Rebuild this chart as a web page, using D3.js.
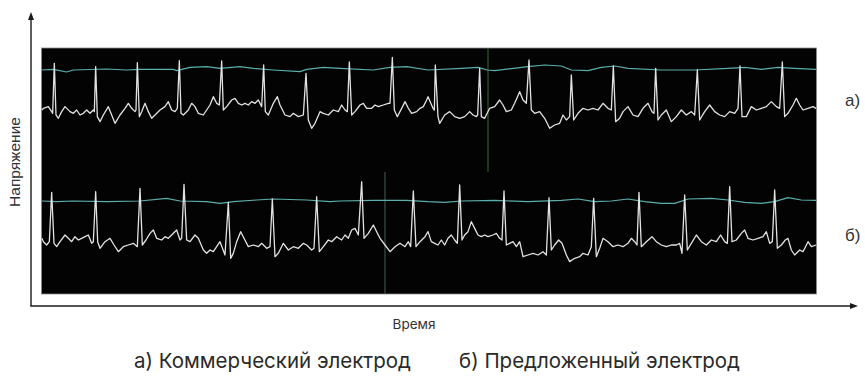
<!DOCTYPE html>
<html><head><meta charset="utf-8">
<script src="https://cdn.jsdelivr.net/npm/d3@7"></script>
<style>html,body{margin:0;padding:0;background:#fff;}svg{display:block;}</style>
</head><body>
<div id="chart"></div>
<script>
// ---- data (time in samples, voltage in mV) ----
const timeDomain = [6, 2328];
const ecgA = [[6,0.10],[10,0.15],[25,0.20],[35,0.05],[38,0.00],[43,1.50],[48,-0.05],[55,-0.15],[65,0.05],[75,0.20],[90,0.05],[100,0.00],[110,0.10],[120,-0.05],[130,0.00],[140,0.10],[150,0.00],[160,0.10],[163,0.05],[167,1.40],[172,-0.10],[180,-0.25],[190,-0.05],[205,0.20],[215,-0.05],[225,-0.30],[240,-0.05],[255,0.15],[265,0.30],[275,0.15],[285,0.05],[288,0.10],[292,1.52],[298,-0.10],[305,0.05],[315,0.30],[325,0.05],[335,-0.15],[345,-0.05],[360,0.10],[375,0.20],[385,0.35],[395,0.10],[405,0.05],[412,0.15],[418,1.58],[423,0.00],[430,-0.05],[445,0.10],[455,0.30],[465,0.20],[475,0.00],[490,-0.05],[500,0.10],[510,0.25],[520,0.50],[530,0.30],[538,0.25],[545,1.57],[550,0.10],[560,0.20],[575,0.40],[585,0.45],[595,0.30],[605,0.25],[615,0.30],[625,0.25],[635,0.35],[645,0.30],[655,0.40],[665,0.20],[671,1.45],[676,0.05],[685,-0.05],[700,0.30],[712,0.50],[720,0.25],[735,-0.05],[750,-0.10],[760,0.00],[775,-0.10],[790,-0.05],[798,1.20],[805,-0.20],[815,-0.45],[825,-0.30],[840,0.05],[850,0.00],[865,-0.05],[880,0.10],[895,0.05],[905,0.25],[915,0.10],[922,0.05],[928,1.54],[935,-0.05],[945,0.05],[960,0.25],[970,0.30],[980,0.15],[995,0.15],[1005,0.25],[1015,0.20],[1030,0.25],[1045,0.30],[1050,0.30],[1057,1.68],[1063,0.10],[1072,-0.10],[1085,0.15],[1095,0.35],[1105,0.15],[1115,0.00],[1130,0.05],[1140,0.15],[1150,0.20],[1160,0.40],
[1164,0.50],[1179,0.15],[1183,0.10],[1186,1.45],[1194,-0.10],[1199,-0.30],[1214,-0.05],[1229,0.05],[1244,-0.10],[1259,-0.15],[1274,-0.10],[1289,0.05],[1299,-0.05],[1309,-0.10],[1313,-0.05],[1319,1.35],[1324,-0.10],[1334,-0.15],[1349,0.15],[1364,0.20],[1379,0.40],[1389,0.25],[1399,0.05],[1414,0.10],[1424,0.30],[1439,0.65],[1449,0.40],[1459,0.30],[1467,1.60],[1474,0.10],[1484,0.00],[1499,0.05],[1514,-0.15],[1529,-0.45],[1544,-0.35],[1559,-0.30],[1569,-0.05],[1579,-0.20],[1589,-0.10],[1594,1.15],[1601,-0.20],[1614,0.00],[1629,0.15],[1644,0.10],[1659,0.15],[1674,0.10],[1689,0.30],[1704,0.15],[1714,0.10],[1720,1.42],[1727,-0.25],[1739,-0.15],[1749,0.05],[1764,0.20],[1779,-0.05],[1794,-0.10],[1809,0.15],[1824,0.30],[1836,0.05],[1842,0.00],[1847,1.35],[1854,-0.20],[1864,-0.05],[1879,0.10],[1894,-0.25],[1909,-0.10],[1924,0.10],[1939,-0.05],[1954,0.05],[1964,-0.05],[1972,1.30],[1979,-0.20],[1994,0.05],[2009,0.25],[2024,0.05],[2039,-0.05],[2054,-0.10],[2069,0.05],[2084,0.00],[2094,0.15],[2100,1.42],[2106,-0.10],[2119,-0.10],[2134,0.20],[2149,0.10],[2164,0.15],[2179,0.20],[2194,0.35],[2209,0.20],[2219,0.15],[2227,1.54],[2234,-0.10],[2244,0.00],[2259,0.25],[2269,0.45],[2279,0.25],[2289,0.10],[2304,0.15],[2319,0.20],[2328,0.15]];

const pulseA = [[6,1.30],[40,1.32],[80,1.24],[100,1.30],[200,1.33],[260,1.30],[300,1.32],[400,1.32],[410,1.28],[450,1.38],[500,1.40],[540,1.35],[600,1.40],[640,1.35],[700,1.30],[780,1.25],[800,1.32],[850,1.38],[900,1.35],[1000,1.30],[1050,1.38],[1100,1.40],[1164,1.30],[1264,1.35],[1314,1.38],[1342,1.30],[1364,1.28],[1414,1.34],[1464,1.40],[1514,1.45],[1564,1.42],[1594,1.30],[1644,1.28],[1684,1.38],[1724,1.42],[1764,1.35],[1864,1.30],[1964,1.30],[2064,1.35],[2114,1.38],[2164,1.32],[2214,1.38],[2264,1.35],[2328,1.32]];
const flatA = [[6,-1.16],[2328,-1.16]];

const ecgB = [[6,0.20],[10,0.10],[20,0.00],[28,0.10],[35,1.58],[42,0.05],[50,-0.05],[60,0.10],[75,0.30],[85,0.20],[95,0.10],[105,0.25],[115,0.15],[125,0.20],[135,0.25],[145,0.30],[155,0.05],[160,0.10],[167,1.60],[173,0.10],[180,-0.10],[195,0.10],[210,0.20],[222,0.00],[235,-0.20],[250,-0.05],[265,0.00],[280,0.05],[292,-0.05],[300,1.70],[307,0.00],[318,0.15],[330,0.35],[340,0.45],[350,0.20],[365,0.15],[375,0.25],[385,0.20],[395,0.30],[410,0.45],[420,0.15],[425,0.20],[432,1.82],[440,0.15],[450,0.10],[465,0.30],[475,0.20],[490,-0.15],[500,-0.25],[510,-0.15],[520,-0.20],[530,-0.05],[540,0.10],[555,-0.30],[565,1.28],[572,-0.40],[580,-0.25],[590,0.10],[602,0.40],[612,0.20],[625,-0.05],[640,0.00],[655,-0.05],[665,0.05],[680,-0.10],[690,-0.05],[697,1.38],[705,-0.35],[715,-0.25],[730,0.05],[745,-0.15],[760,-0.05],[775,-0.10],[790,0.05],[800,0.00],[815,-0.15],[822,-0.10],[830,1.45],[838,-0.20],[850,-0.05],[865,0.15],[875,0.10],[890,0.25],[905,0.15],[915,0.30],[925,0.20],[935,0.45],[945,0.50],[955,0.30],[965,1.90],[972,0.20],[985,0.35],[1000,0.60],[1010,0.40],[1020,0.20],[1035,0.00],[1050,-0.20],[1065,-0.05],[1080,0.05],[1095,-0.05],[1105,0.10],[1112,-0.05],[1120,1.62],[1128,-0.05],[1140,0.10],[1155,0.25],
[1164,0.40],[1174,0.10],[1184,0.05],[1194,0.00],[1204,0.15],[1214,0.00],[1224,0.20],[1234,0.30],[1244,0.15],[1252,0.05],[1259,1.80],[1266,0.15],[1274,0.30],[1284,0.40],[1294,0.70],[1304,0.50],[1314,0.30],[1324,0.25],[1334,0.30],[1344,0.25],[1359,0.30],[1369,0.35],[1379,0.20],[1386,0.15],[1392,1.62],[1399,0.00],[1409,0.05],[1419,0.10],[1429,-0.05],[1439,0.10],[1449,-0.35],[1464,-0.30],[1479,-0.25],[1494,-0.30],[1509,-0.20],[1519,-0.30],[1527,1.42],[1534,-0.15],[1544,0.00],[1556,0.15],[1566,0.05],[1579,-0.30],[1589,-0.50],[1604,-0.40],[1619,-0.35],[1629,-0.25],[1644,-0.30],[1654,-0.05],[1661,1.40],[1669,-0.35],[1679,-0.10],[1689,0.20],[1704,0.10],[1719,-0.05],[1734,0.00],[1749,-0.05],[1764,0.05],[1774,0.20],[1784,0.10],[1791,0.00],[1797,1.58],[1804,-0.05],[1819,0.10],[1836,0.25],[1849,0.10],[1864,0.00],[1879,-0.05],[1894,0.00],[1909,0.00],[1919,0.05],[1926,-0.25],[1934,1.50],[1942,-0.15],[1954,0.05],[1969,0.30],[1984,0.10],[1999,0.00],[2014,0.15],[2029,0.10],[2042,0.30],[2054,0.10],[2062,0.05],[2069,1.75],[2076,0.10],[2089,0.15],[2104,0.35],[2114,0.45],[2124,0.20],[2139,0.15],[2154,0.20],[2169,0.25],[2179,0.40],[2189,0.05],[2197,0.10],[2204,1.65],[2212,-0.10],[2224,0.00],[2236,0.15],[2244,0.20],[2254,-0.15],[2264,-0.30],[2279,-0.15],[2289,-0.20],[2304,0.10],[2314,-0.05],[2328,0.00]];

const pulseB = [[6,1.32],[50,1.30],[100,1.32],[200,1.30],[300,1.32],[380,1.40],[420,1.32],[500,1.30],[540,1.25],[580,1.30],[650,1.35],[700,1.38],[800,1.35],[870,1.30],[900,1.32],[1000,1.34],[1100,1.34],[1164,1.30],[1214,1.28],[1264,1.32],[1364,1.34],[1464,1.30],[1564,1.34],[1614,1.38],[1664,1.30],[1714,1.32],[1764,1.38],[1814,1.30],[1864,1.25],[1904,1.25],[1944,1.38],[2014,1.40],[2064,1.35],[2114,1.28],[2164,1.25],[2204,1.30],[2244,1.42],[2284,1.35],[2328,1.34]];
const flatB = [[6,-1.17],[2328,-1.17]];

const cursorA = [1344];
const cursorB = [1035];
const panelLabels = ["а)", "б)"];
const legendLabels = ["а) Коммерческий электрод", "б) Предложенный электрод"];
const yTitle = "Напряжение";
const xTitle = "Время";

// ---- drawing ----
const W = 865, H = 376;
const svg = d3.select("#chart").append("svg").attr("width", W).attr("height", H);
svg.append("rect").attr("width", W).attr("height", H).attr("fill", "#fff");

const x = d3.scaleLinear().domain(timeDomain).range([42, 816]);
const yA = d3.scaleLinear().domain([0, 1]).range([113.33, 80]);
const yB = d3.scaleLinear().domain([0, 1]).range([245, 211.67]);
const panelTop = 48, panelBottom = 294, split = 172;

// monitor panel
svg.append("rect").attr("x", x.range()[0] - 0.5).attr("y", panelTop)
  .attr("width", x.range()[1] - x.range()[0] + 1).attr("height", panelBottom - panelTop)
  .attr("fill", "#030303").attr("stroke", "#8a8a8a").attr("stroke-width", 0.8);

const blur = svg.append("defs").append("filter").attr("id", "soft");
blur.append("feGaussianBlur").attr("stdDeviation", 0.3);

// cursor lines
svg.selectAll(".curA").data(cursorA).join("line")
  .attr("x1", d => x(d)).attr("x2", d => x(d)).attr("y1", panelTop).attr("y2", split)
  .attr("stroke", "#2b5a2b").attr("stroke-width", 1.2);
svg.selectAll(".curB").data(cursorB).join("line")
  .attr("x1", d => x(d)).attr("x2", d => x(d)).attr("y1", split).attr("y2", panelBottom)
  .attr("stroke", "#3f5244").attr("stroke-width", 1.2);

function trace(data, yS, color, width) {
  const line = d3.line().x(d => x(d[0])).y(d => yS(d[1]));
  svg.append("path").datum(data).attr("d", line).attr("fill", "none")
    .attr("stroke", color).attr("stroke-width", width)
    .attr("stroke-linejoin", "round").attr("filter", "url(#soft)");
}
trace(flatA, yA, "#2e8482", 2.2);
trace(flatB, yB, "#2e8482", 2.2);
trace(pulseA, yA, "#5aaeab", 1.2);
trace(pulseB, yB, "#5aaeab", 1.2);
trace(ecgA, yA, "#e2e2e2", 1.3);
trace(ecgB, yB, "#e2e2e2", 1.3);

// axes with arrows
const axisColor = "#1a1a1a";
svg.append("line").attr("x1", 31).attr("x2", 31).attr("y1", 306).attr("y2", 18)
  .attr("stroke", axisColor).attr("stroke-width", 1.4);
svg.append("path").attr("d", "M31,12 L28,20 L34,20 Z").attr("fill", axisColor);
svg.append("line").attr("x1", 30.3).attr("x2", 851).attr("y1", 306).attr("y2", 306)
  .attr("stroke", axisColor).attr("stroke-width", 1.4);
svg.append("path").attr("d", "M858,306 L850,303 L850,309 Z").attr("fill", axisColor);

// titles
svg.append("text").attr("transform", "translate(20,162) rotate(-90)")
  .attr("text-anchor", "middle").attr("font-family", "Liberation Sans, Arial, sans-serif")
  .attr("font-size", 15.5).attr("fill", "#333").text(yTitle);
svg.append("text").attr("x", 414).attr("y", 329).attr("text-anchor", "middle")
  .attr("font-family", "Inter, Roboto, sans-serif").attr("font-size", 13.5)
  .attr("fill", "#333").text(xTitle);

// panel labels
svg.selectAll(".pl").data(panelLabels).join("text")
  .attr("x", 845).attr("y", (d, i) => i === 0 ? yA(0) - 7 : yB(0) - 4)
  .attr("font-family", "Liberation Sans, Arial, sans-serif").attr("font-size", 17)
  .attr("fill", "#333").text(d => d);

// legend
svg.selectAll(".lg").data(legendLabels).join("text")
  .attr("x", (d, i) => i === 0 ? 134 : 459).attr("y", 368)
  .attr("font-family", "Inter, Roboto, sans-serif").attr("font-size", 20.5)
  .attr("fill", "#2a2a2a").text(d => d);
</script>
</body></html>
